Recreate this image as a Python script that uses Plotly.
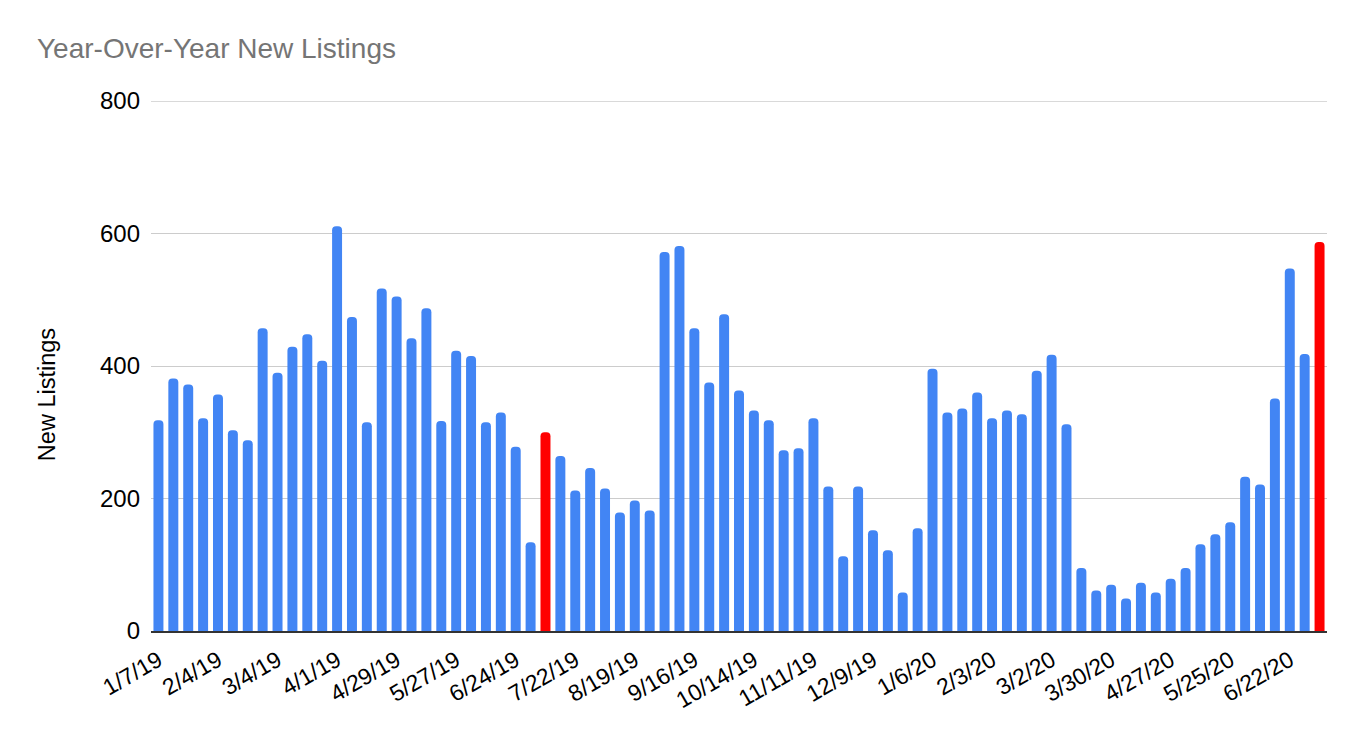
import pandas as pd
import plotly.graph_objects as go

# Weekly new listings
start_week = "2019-01-07"
new_listings = [318, 381, 372, 321, 357, 303, 288, 457, 390, 429,
                448, 408, 611, 474, 315, 517, 505, 442, 487, 317,
                423, 415, 315, 330, 278, 134, 300, 264, 212, 246,
                215, 179, 197, 182, 572, 581, 457, 375, 478, 363,
                333, 318, 273, 276, 321, 218, 113, 218, 152, 122,
                58, 155, 396, 330, 336, 360, 321, 333, 327, 393,
                417, 312, 95, 61, 70, 49, 73, 58, 79, 95,
                131, 146, 164, 233, 221, 351, 547, 418, 587]
highlight_weeks = ["7/8/19", "7/6/20"]
y_ticks = [0, 200, 400, 600, 800]

weeks = [f"{d.month}/{d.day}/{d.year % 100}"
         for d in pd.date_range(start_week, periods=len(new_listings), freq="7D")]
x_tick_labels = weeks[::4]

BLUE = "#4285F4"
RED = "#FF0000"
colors = [RED if w in highlight_weeks else BLUE for w in weeks]

FONT = "Liberation Sans, Arial, sans-serif"

# page body has an 8px margin; layout numbers below compensate for it
W, H = 1364, 738
ML, MR, MT, MB = 143, 45, 93, 115
plot_w = W - ML - MR

fig = go.Figure(go.Bar(
    x=weeks, y=new_listings,
    marker=dict(color=colors, line=dict(width=0), cornerradius=4),
    hoverinfo="x+y",
))

fig.update_layout(
    width=W, height=H,
    margin=dict(l=ML, r=MR, t=MT, b=MB),
    paper_bgcolor="white", plot_bgcolor="white",
    bargap=0.33,
    showlegend=False,
    font=dict(family=FONT, color="#000000", size=24),
    title=dict(text="Year-Over-Year New Listings",
               font=dict(family=FONT, size=28, color="#757575"),
               xref="container", yref="container",
               x=29 / W, xanchor="left",
               y=1 - 40 / H, yanchor="middle"),
    annotations=[dict(
        text="New Listings", textangle=-90,
        xref="paper", yref="paper",
        x=(39 - ML) / plot_w, y=0.445,
        xanchor="center", yanchor="middle", showarrow=False,
        font=dict(family=FONT, size=23.5, color="#000000"),
    )],
    shapes=[dict(type="line", xref="paper", yref="y",
                 x0=0, x1=1, y0=y_ticks[-1], y1=y_ticks[-1],
                 line=dict(color="#CCCCCC", width=1.3), layer="below")],
)

fig.update_xaxes(
    type="category",
    tickmode="array", tickvals=x_tick_labels, ticktext=x_tick_labels,
    tickangle=-30, tickfont=dict(size=23, color="#000000"),
    showgrid=False, ticks="",
    showline=True, linecolor="#333333", linewidth=2,
    range=[-0.5, len(weeks) - 0.5],
    ticklabelstandoff=5,
)

fig.update_yaxes(
    range=[0, 800], tickvals=y_ticks,
    tickfont=dict(size=24, color="#000000"),
    showgrid=True, gridcolor="#CCCCCC", gridwidth=1.3,
    zeroline=False, showline=False, ticks="",
    ticklabelstandoff=10,
)

fig.write_html("out.html")
